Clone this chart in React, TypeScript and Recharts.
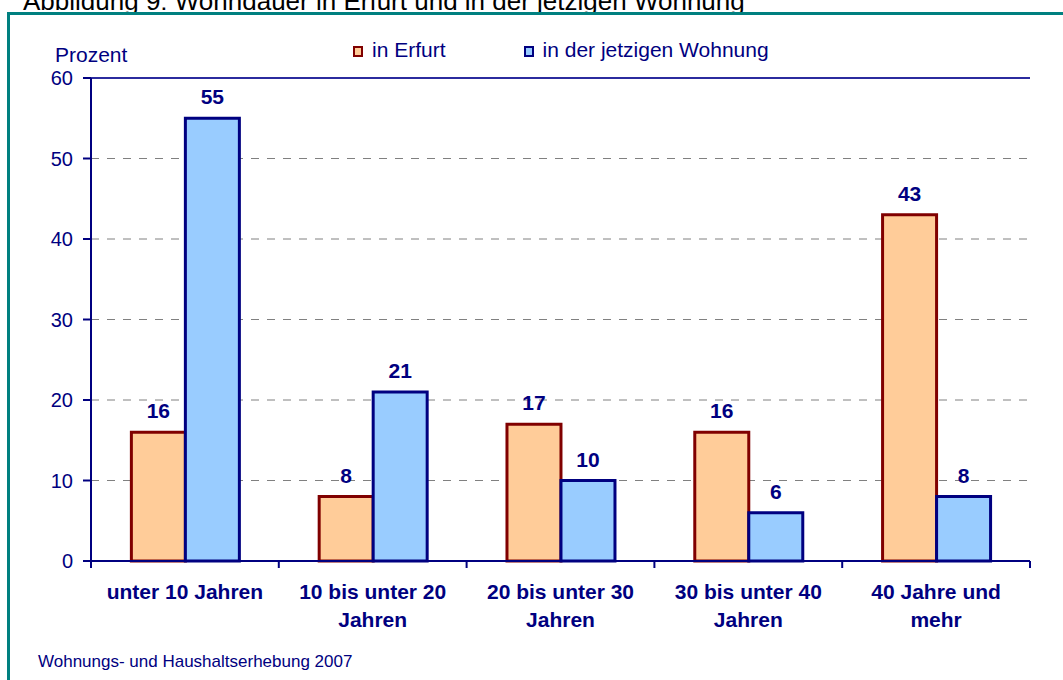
import React from "react";
import {
  BarChart,
  Bar,
  XAxis,
  YAxis,
  CartesianGrid,
  Legend,
  LabelList,
  ReferenceLine,
} from "recharts";

const categories = [
  "unter 10 Jahren",
  "10 bis unter 20 Jahren",
  "20 bis unter 30 Jahren",
  "30 bis unter 40 Jahren",
  "40 Jahre und mehr",
];
const erfurt = [16, 8, 17, 16, 43];
const wohnung = [55, 21, 10, 6, 8];
const yTicks = [0, 10, 20, 30, 40, 50, 60];

const seriesNames = ["in Erfurt", "in der jetzigen Wohnung"];
const NAVY = "#000080";
const FONT = "'Liberation Sans', Arial, sans-serif";

const chartData = categories.map((name, i) => ({
  name,
  erfurt: erfurt[i],
  wohnung: wohnung[i],
}));

// wrap words so that a line holds at most maxChars characters
const wrapLabel = (s: string, maxChars: number) => {
  const lines: string[] = [];
  let cur = "";
  s.split(" ").forEach((w) => {
    const next = cur ? cur + " " + w : w;
    if (next.length > maxChars && cur) {
      lines.push(cur);
      cur = w;
    } else {
      cur = next;
    }
  });
  if (cur) lines.push(cur);
  return lines;
};

const TICK_MARGIN = 23;

const CategoryTick = ({ x, y, payload, index, visibleTicksCount }: any) => {
  const half = payload.offset || 94;
  const axisY = y - TICK_MARGIN;
  const lines = wrapLabel(String(payload.value), 15);
  return (
    <g>
      <line
        x1={x - half}
        x2={x - half}
        y1={axisY}
        y2={axisY + 7}
        stroke={NAVY}
        strokeWidth={2}
      />
      {index === visibleTicksCount - 1 && (
        <line
          x1={x + half}
          x2={x + half}
          y1={axisY}
          y2={axisY + 7}
          stroke={NAVY}
          strokeWidth={2}
        />
      )}
      <text
        x={x}
        y={y + 15}
        textAnchor="middle"
        fill={NAVY}
        fontSize={21}
        fontWeight="bold"
        fontFamily={FONT}
      >
        {lines.map((l, i) => (
          <tspan key={i} x={x} dy={i === 0 ? 0 : 28}>
            {l}
          </tspan>
        ))}
      </text>
    </g>
  );
};

const LegendContent = () => {
  const items = [
    { label: seriesNames[0], fill: "#FFCC99", stroke: "#800000" },
    { label: seriesNames[1], fill: "#99CCFF", stroke: NAVY },
  ];
  return (
    <div style={{ display: "flex", alignItems: "center", fontFamily: FONT }}>
      {items.map((it, i) => (
        <div
          key={it.label}
          style={{
            display: "flex",
            alignItems: "center",
            marginRight: i === 0 ? 78 : 0,
          }}
        >
          <span
            style={{
              display: "inline-block",
              width: 6,
              height: 7,
              background: it.fill,
              border: `2px solid ${it.stroke}`,
              marginRight: 9,
              marginTop: 3,
            }}
          />
          <span style={{ fontSize: 21, color: NAVY, lineHeight: "24px" }}>
            {it.label}
          </span>
        </div>
      ))}
    </div>
  );
};

export default function App() {
  return (
    <div
      style={{
        position: "absolute",
        left: 0,
        top: 0,
        width: 1063,
        height: 680,
        overflow: "hidden",
        background: "#fff",
        fontFamily: FONT,
      }}
    >
      <div
        style={{
          position: "absolute",
          left: 23,
          top: -12,
          fontSize: 26,
          lineHeight: "26px",
          color: "#000",
          whiteSpace: "nowrap",
        }}
      >
        Abbildung 9: Wohndauer in Erfurt und in der jetzigen Wohnung
      </div>
      <div
        style={{
          position: "absolute",
          left: 7,
          top: 12,
          width: 1100,
          height: 700,
          border: "3px solid #008080",
        }}
      />
      <div
        style={{
          position: "absolute",
          left: 55,
          top: 44,
          fontSize: 21,
          lineHeight: "21px",
          color: NAVY,
        }}
      >
        Prozent
      </div>
      <div
        style={{
          position: "absolute",
          left: 38,
          top: 653,
          fontSize: 17,
          lineHeight: "17px",
          color: NAVY,
          whiteSpace: "nowrap",
        }}
      >
        Wohnungs- und Haushaltserhebung 2007
      </div>
      <div style={{ position: "absolute", left: 0, top: 0 }}>
        <BarChart
          width={1063}
          height={680}
          data={chartData}
          margin={{ top: 78, right: 33, left: 0, bottom: 49 }}
          barCategoryGap="21.5%"
          barGap={0}
        >
          <CartesianGrid
            vertical={false}
            stroke="#808080"
            strokeDasharray="8 8"
          />
          <XAxis
            dataKey="name"
            height={70}
            interval={0}
            tickLine={false}
            tickSize={0}
            tickMargin={TICK_MARGIN}
            axisLine={{ stroke: NAVY, strokeWidth: 2 }}
            tick={<CategoryTick />}
          />
          <YAxis
            width={91}
            domain={[0, 60]}
            ticks={yTicks}
            tickSize={8}
            tickMargin={10}
            axisLine={{ stroke: NAVY, strokeWidth: 2 }}
            tickLine={{ stroke: NAVY, strokeWidth: 2 }}
            tick={{ fill: NAVY, fontSize: 20, fontFamily: FONT }}
          />
          <YAxis
            yAxisId="right"
            orientation="right"
            width={0}
            domain={[0, 60]}
            tick={false}
            tickLine={false}
            axisLine={{ stroke: "#2B2B9E", strokeWidth: 2 }}
          />
          <ReferenceLine y={60} stroke="#2B2B9E" strokeWidth={2} />
          <Legend
            layout="horizontal"
            verticalAlign="middle"
            align="center"
            wrapperStyle={{ top: 38, left: 353, width: 500 }}
            content={<LegendContent />}
          />
          <Bar
            dataKey="erfurt"
            name={seriesNames[0]}
            fill="#FFCC99"
            stroke="#800000"
            strokeWidth={3}
            isAnimationActive={false}
          >
            <LabelList
              dataKey="erfurt"
              position="top"
              offset={14}
              fill={NAVY}
              fontSize={21}
              fontWeight="bold"
              fontFamily={FONT}
            />
          </Bar>
          <Bar
            dataKey="wohnung"
            name={seriesNames[1]}
            fill="#99CCFF"
            stroke={NAVY}
            strokeWidth={3}
            isAnimationActive={false}
          >
            <LabelList
              dataKey="wohnung"
              position="top"
              offset={14}
              fill={NAVY}
              fontSize={21}
              fontWeight="bold"
              fontFamily={FONT}
            />
          </Bar>
        </BarChart>
      </div>
    </div>
  );
}
